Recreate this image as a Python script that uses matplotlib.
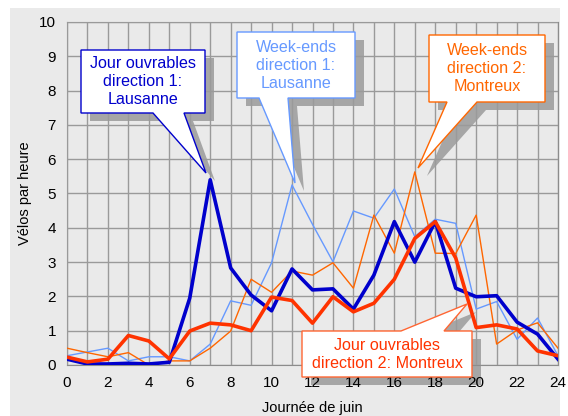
import matplotlib.pyplot as plt
from matplotlib.patches import Polygon, Rectangle

plt.rcParams['font.family'] = ['Liberation Sans', 'DejaVu Sans']

# ===================================================================
# DATA (velos par heure, journee de juin)
# ===================================================================
hours = list(range(25))
jo_dir1 = [0.17, 0.03, 0.03, 0.05, 0.03, 0.08, 1.95, 5.4, 2.83, 2.04, 1.58, 2.8, 2.19,
           2.22, 1.63, 2.62, 4.18, 3.0, 4.18, 2.24, 1.99, 2.02, 1.25, 0.9, 0.17]
jo_dir2 = [0.23, 0.09, 0.17, 0.86, 0.7, 0.18, 0.99, 1.22, 1.17, 1.0, 1.98, 1.88, 1.22,
           1.99, 1.55, 1.8, 2.5, 3.69, 4.18, 3.12, 1.09, 1.17, 1.05, 0.41, 0.27]
we_dir1 = [0.27, 0.38, 0.49, 0.12, 0.24, 0.24, 0.12, 0.61, 1.87, 1.74, 2.98, 5.25, 4.1,
           3.01, 4.49, 4.28, 5.13, 3.74, 4.25, 4.13, 1.63, 1.85, 0.75, 1.37, 0.27]
we_dir2 = [0.49, 0.36, 0.24, 0.36, 0.0, 0.12, 0.12, 0.49, 0.99, 2.5, 2.12, 2.74, 2.62,
           2.98, 2.24, 4.37, 3.26, 5.63, 3.26, 3.25, 4.37, 0.61, 1.02, 1.23, 0.49]

W, H = 568, 416


def px(x, y):
    # pixel (from top-left) -> figure fraction
    return (x / W, 1 - y / H)


def callout(ax, box, base, tip, text, edge, tcolor, side='bottom'):
    """Excel-like callout with drop shadow, box=(L,T,R,B) in pixels."""
    fig = ax.figure
    L, T, R, B = box
    if side == 'bottom':
        pts = [(L, T), (R, T), (R, B), (base[1], B), tip, (base[0], B), (L, B)]
    else:
        pts = [(L, T), (base[0], T), tip, (base[1], T), (R, T), (R, B), (L, B)]
    shadow = [px(x + 9, y + 8) for x, y in pts]
    # shadow sits under grid and tick labels, box on top of the lines
    ax.add_patch(Polygon(shadow, closed=True, transform=fig.transFigure,
                         facecolor='#A6A6A6', edgecolor='none', zorder=2,
                         clip_on=False))
    ax.add_patch(Polygon([px(x, y) for x, y in pts], closed=True,
                         transform=fig.transFigure, facecolor='white',
                         edgecolor=edge, linewidth=1.0, zorder=5, clip_on=False))
    cx, cy = px((L + R) / 2, (T + B) / 2)
    ax.text(cx, cy, text, ha='center', va='center', color=tcolor,
            fontsize=11.6, linespacing=1.25, zorder=6, transform=fig.transFigure)


fig = plt.figure(figsize=(5.68, 4.16), dpi=100)
fig.patch.set_facecolor('white')
fig.add_artist(Rectangle((10 / W, 0), 550 / W, 408 / H, transform=fig.transFigure,
                         facecolor='#EAEAEA', edgecolor='none', zorder=-1))

ax = fig.add_axes([67 / W, 51 / H, 491 / W, 343 / H])
ax.set_facecolor('#EAEAEA')

ax.plot(hours, we_dir1, color='#6699FF', linewidth=1.0, zorder=3)
ax.plot(hours, we_dir2, color='#FF6600', linewidth=1.0, zorder=3)
ax.plot(hours, jo_dir1, color='#0000CC', linewidth=2.6, zorder=4)
ax.plot(hours, jo_dir2, color='#FF3300', linewidth=2.6, zorder=4)

ax.set_xlim(0, 24)
ax.set_ylim(0, 10)
ax.set_xticks(range(0, 25, 2))
ax.set_xticks(range(25), minor=True)
ax.set_yticks(range(11))
ax.grid(True, which='both', color='#9A9A9A', linewidth=1.0)
ax.set_axisbelow(False)  # axis zorder 2.5: above shadows, below the lines
ax.tick_params(which='both', length=0, labelsize=11, pad=8)
for s in ax.spines.values():
    s.set_color('#8C8C8C')
ax.set_xlabel("Journée de juin", fontsize=10.5, labelpad=8)
ax.set_ylabel("Vélos par heure", fontsize=10.5, labelpad=5)

callout(ax, (81, 50, 205, 113), (153, 184), (206, 173),
        "Jour ouvrables\ndirection 1:\nLausanne", '#0000CC', '#0000CC')
callout(ax, (237, 32, 355, 98), (259, 288), (295, 183),
        "Week-ends\ndirection 1:\nLausanne", '#6699FF', '#6699FF')
callout(ax, (429, 35, 545, 102), (447, 477), (418, 168),
        "Week-ends\ndirection 2:\nMontreux", '#FF6600', '#FF6600')
callout(ax, (302, 331, 472, 377), (401, 444), (467, 304),
        "Jour ouvrables\ndirection 2: Montreux", '#FF6633', '#FF3300', side='top')

plt.savefig('out.png', dpi=100)
